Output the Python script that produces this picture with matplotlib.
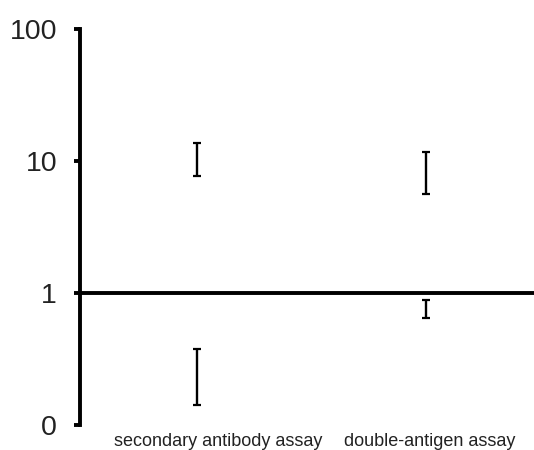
import numpy as np
import matplotlib
matplotlib.use("Agg")
import matplotlib.pyplot as plt
from matplotlib.transforms import ScaledTranslation

plt.rcParams['font.family'] = ['Liberation Sans', 'DejaVu Sans']

# assays and fold-change ranges (low, high) read as upper / lower groups
assays = ["secondary antibody assay", "double-antigen assay"]
upper_low = [7.7, 5.6]
upper_high = [13.7, 11.6]
lower_low = [0.142, 0.643]
lower_high = [0.376, 0.885]

ytick_vals = [0.1, 1, 10, 100]
ytick_labels = ["0", "1", "10", "100"]

fig = plt.figure(figsize=(5.34, 4.5), dpi=100)
ax = fig.add_axes([0.1498, 0.0556, 0.8502, 0.88])

x = np.arange(len(assays))

def draw_range(lo, hi):
    lo = np.array(lo)
    hi = np.array(hi)
    mid = np.sqrt(lo * hi)
    ax.errorbar(x, mid, yerr=[mid - lo, hi - mid], fmt='none', ecolor='black',
                elinewidth=1.7, capsize=2.6, capthick=1.6)

draw_range(upper_low, upper_high)
draw_range(lower_low, lower_high)

ax.axhline(1, color='black', lw=2.8, zorder=3)

ax.set_yscale('log')
ax.set_ylim(0.1, 100)
ax.set_xlim(-0.511, 1.472)
ax.set_yticks(ytick_vals, ytick_labels, fontsize=20.5, color='#222222')
ax.minorticks_off()
ax.tick_params(axis='y', direction='out', length=4, width=2.8, pad=12.5)

ax.set_xticks(x, assays, fontsize=13, color='#222222')
ax.tick_params(axis='x', length=0, pad=6)
# nudge the category labels a little to the right
for lab, dx in zip(ax.get_xticklabels(), [21, 4]):
    lab.set_transform(lab.get_transform() + ScaledTranslation(dx / 100, 0, fig.dpi_scale_trans))

for side in ['top', 'right', 'bottom']:
    ax.spines[side].set_visible(False)
ax.spines['left'].set_linewidth(2.8)

fig.savefig("out.png", dpi=100)
